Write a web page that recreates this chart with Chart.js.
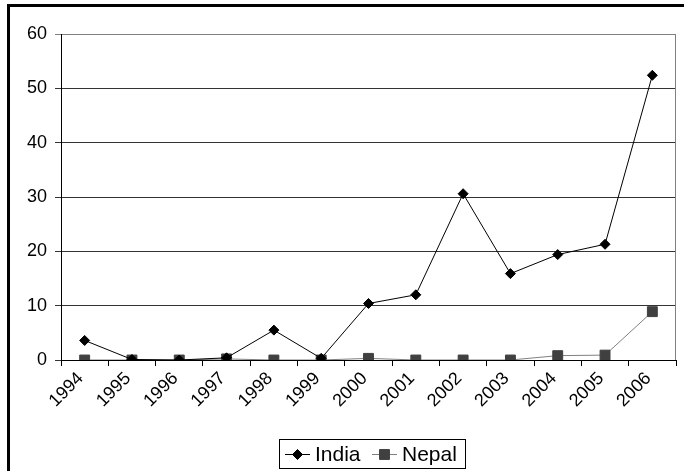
<!DOCTYPE html>
<html>
<head>
<meta charset="utf-8">
<script src="https://cdn.jsdelivr.net/npm/chart.js@4/dist/chart.umd.min.js"></script>
<style>
  html, body { margin: 0; padding: 0; background: #fff; overflow: hidden; }
  #wrap { position: relative; width: 684px; height: 471px; }
  #frame { position: absolute; left: 7px; top: 4px; width: 720px; height: 520px;
           border: 3px solid #000; box-sizing: border-box; }
  #chart { position: absolute; left: 0; top: 0; }
</style>
</head>
<body>
<div id="wrap">
  <div id="frame"></div>
  <canvas id="chart" width="684" height="471"></canvas>
</div>
<script>
// Yearly values per country
const years = ['1994', '1995', '1996', '1997', '1998', '1999', '2000',
               '2001', '2002', '2003', '2004', '2005', '2006'];
const india = [3.6, 0.1, 0.0, 0.4, 5.5, 0.3, 10.4, 12.0, 30.6, 15.9, 19.4, 21.3, 52.4];
const nepal = [0.0, 0.0, 0.0, 0.2, 0.0, 0.0, 0.3, 0.0, 0.0, 0.0, 0.8, 0.9, 8.9];
const yMin = 0, yMax = 60, yStep = 10;

const FONT = "'Liberation Sans', Arial, sans-serif";

// Boxed legend below the axis, with a line-and-marker sample per series
const boxLegend = {
  id: 'boxLegend',
  afterDraw(chart) {
    const ctx = chart.ctx;
    ctx.save();
    const bx = 279.5, by = 439.5, bw = 186, bh = 29;
    ctx.strokeStyle = '#000';
    ctx.lineWidth = 1;
    ctx.strokeRect(bx, by, bw, bh);
    const cy = by + bh / 2;
    const items = [
      { ds: chart.data.datasets[0], x0: 285, x1: 310, tx: 315 },
      { ds: chart.data.datasets[1], x0: 372, x1: 397, tx: 402 }
    ];
    ctx.font = '21px ' + FONT;
    ctx.textBaseline = 'middle';
    ctx.textAlign = 'left';
    items.forEach(it => {
      ctx.strokeStyle = it.ds.borderColor;
      ctx.lineWidth = 1;
      ctx.beginPath();
      ctx.moveTo(it.x0, cy + 0.5);
      ctx.lineTo(it.x1, cy + 0.5);
      ctx.stroke();
      ctx.fillStyle = it.ds.pointBackgroundColor;
      ctx.strokeStyle = it.ds.pointBorderColor;
      Chart.helpers.drawPoint(ctx, {
        pointStyle: it.ds.pointStyle,
        radius: it.ds.pointRadius,
        borderWidth: 1
      }, (it.x0 + it.x1) / 2, cy + 0.5);
      ctx.fillStyle = '#000';
      ctx.fillText(it.ds.label, it.tx, cy + 1);
    });
    ctx.restore();
  }
};

// Gray border on the right edge of the plot area
const plotBorder = {
  id: 'plotBorder',
  beforeDatasetsDraw(chart) {
    const { ctx, chartArea: a } = chart;
    ctx.save();
    ctx.strokeStyle = '#808080';
    ctx.lineWidth = 1;
    ctx.beginPath();
    ctx.moveTo(Math.round(a.right) - 0.5, a.top);
    ctx.lineTo(Math.round(a.right) - 0.5, a.bottom);
    ctx.stroke();
    ctx.restore();
  }
};

new Chart(document.getElementById('chart'), {
  type: 'line',
  data: {
    labels: years,
    datasets: [
      {
        label: 'India',
        data: india,
        borderColor: '#000',
        borderWidth: 1,
        pointStyle: 'rectRot',
        pointRadius: 5,
        pointBackgroundColor: '#000',
        pointBorderColor: '#000',
        pointBorderWidth: 1,
        tension: 0
      },
      {
        label: 'Nepal',
        data: nepal,
        borderColor: '#808080',
        borderWidth: 1,
        pointStyle: 'rect',
        pointRadius: 7,
        pointBackgroundColor: '#404040',
        pointBorderColor: '#404040',
        pointBorderWidth: 1,
        tension: 0
      }
    ]
  },
  options: {
    responsive: false,
    animation: false,
    layout: { padding: { top: 34, right: 3, left: 0, bottom: 0 } },
    plugins: {
      legend: { display: false },
      tooltip: { enabled: false }
    },
    scales: {
      x: {
        type: 'category',
        offset: true,
        grid: {
          offset: true,
          drawOnChartArea: false,
          drawTicks: true,
          tickLength: 6,
          color: '#000'
        },
        border: { color: '#000', width: 1 },
        ticks: {
          autoSkip: false,
          minRotation: 45,
          maxRotation: 45,
          padding: 2,
          labelOffset: -4,
          color: '#000',
          font: { family: FONT, size: 18 }
        },
        afterFit(scale) { scale.height = 111; }
      },
      y: {
        min: yMin,
        max: yMax,
        grid: {
          color: ctx => (ctx.tick && ctx.tick.value === yMax) ? '#808080' : '#333',
          lineWidth: 1,
          tickLength: 6
        },
        border: { color: '#000', width: 1 },
        ticks: {
          stepSize: yStep,
          padding: 8,
          color: '#000',
          font: { family: FONT, size: 18 }
        },
        afterFit(scale) { scale.width = 61; }
      }
    }
  },
  plugins: [plotBorder, boxLegend]
});
</script>
</body>
</html>
